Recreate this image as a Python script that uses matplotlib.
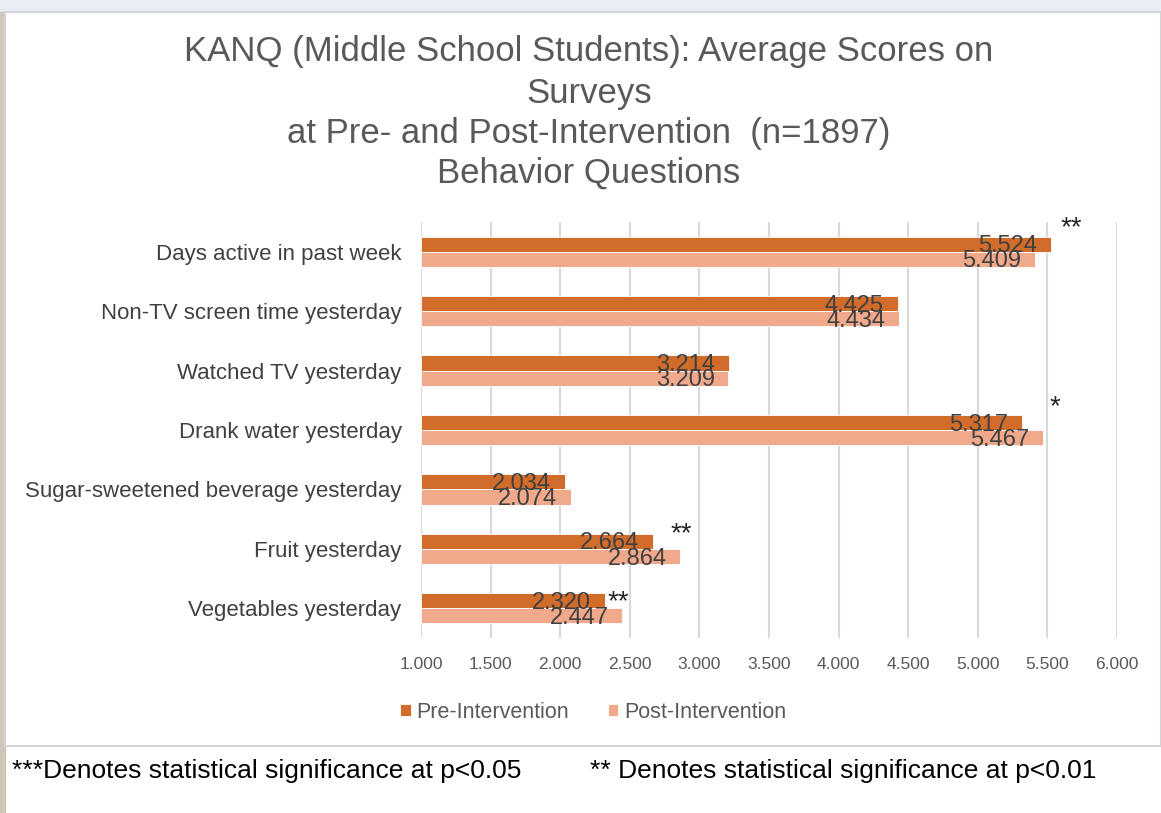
import numpy as np
import matplotlib
matplotlib.use("Agg")
import matplotlib.pyplot as plt
from matplotlib.patches import Rectangle

plt.rcParams['font.family'] = ['Liberation Sans', 'DejaVu Sans']

# Datos
categorias = ["Days active in past week",
              "Non-TV screen time yesterday",
              "Watched TV yesterday",
              "Drank water yesterday",
              "Sugar-sweetened beverage yesterday",
              "Fruit yesterday",
              "Vegetables yesterday"]
pre = [5.524, 4.425, 3.214, 5.317, 2.034, 2.664, 2.320]
post = [5.409, 4.434, 3.209, 5.467, 2.074, 2.864, 2.447]
series = ["Pre-Intervention", "Post-Intervention"]
ticks = [1.0, 1.5, 2.0, 2.5, 3.0, 3.5, 4.0, 4.5, 5.0, 5.5, 6.0]

# significancia: indice de categoria -> marca
estrellas = {0: "**", 3: "*", 5: "**", 6: "**"}

titulo = ["KANQ (Middle School Students): Average Scores on",
          "Surveys",
          "at Pre- and Post-Intervention  (n=1897)",
          "Behavior Questions"]
nota1 = "***Denotes statistical significance at p<0.05"
nota2 = "** Denotes statistical significance at p<0.01"

c_pre = '#D26C2A'
c_post = '#F1A98B'

W, H = 1161, 813
fig = plt.figure(figsize=(W / 100, H / 100), dpi=100)
fig.patch.set_facecolor('white')

# fondo tipo captura de pantalla
fig.add_artist(Rectangle((0, 1 - 12 / H), 1, 12 / H, transform=fig.transFigure,
                         color='#E9EEF6', zorder=0))
fig.add_artist(Rectangle((0, 0), 5 / W, 1 - 12 / H, transform=fig.transFigure,
                         color='#CFC7BA', zorder=0))
fig.add_artist(Rectangle((5 / W, 1 - 746 / H), 1 - 5 / W, (746 - 12) / H,
                         transform=fig.transFigure, facecolor='white',
                         edgecolor='#D4D4D4', lw=1.5, zorder=0))

ax = fig.add_axes([421 / W, 1 - 638 / H, (1117 - 421) / W, (638 - 222) / H])
ax.set_facecolor('none')

y = np.arange(len(categorias))
h = 0.255
ax.barh(y - h / 2, [v - 1 for v in pre], left=1, height=h, color=c_pre,
        edgecolor='white', linewidth=0.6, label=series[0], zorder=3)
ax.barh(y + h / 2, [v - 1 for v in post], left=1, height=h, color=c_post,
        edgecolor='white', linewidth=0.6, label=series[1], zorder=3)

# etiquetas de valores
for i in range(len(categorias)):
    ax.annotate("{:.3f}".format(pre[i]), (pre[i], y[i] - h / 2),
                xytext=(-10, -1.5), textcoords='offset points', ha='right',
                va='center', fontsize=17, color='#404040', zorder=4)
    ax.annotate("{:.3f}".format(post[i]), (post[i], y[i] + h / 2),
                xytext=(-10, -1.5), textcoords='offset points', ha='right',
                va='center', fontsize=17, color='#404040', zorder=4)

# estrellas (colocadas a mano como en el original)
pos_estrellas = {0: (5.67, -0.27), 3: (5.555, -0.27), 5: (2.868, -0.135), 6: (2.42, 0.015)}
for i, s in estrellas.items():
    xs, dy = pos_estrellas[i]
    ax.text(xs, y[i] + dy, s, ha='center', va='baseline', fontsize=20,
            color='#262626', zorder=4)

ax.set_xlim(1, 6)
ax.set_ylim(len(categorias) - 0.5, -0.5)
ax.set_xticks(ticks)
ax.set_xticklabels(["{:.3f}".format(t) for t in ticks])
ax.set_yticks(y)
ax.set_yticklabels(categorias)
ax.tick_params(axis='x', length=0, pad=14, labelsize=12.5, labelcolor='#595959')
ax.tick_params(axis='y', length=0, pad=14, labelsize=16, labelcolor='#404040')
for sp in ax.spines.values():
    sp.set_visible(False)
ax.grid(axis='x', color='#D9D9D9', linewidth=1.5, zorder=0)
ax.set_axisbelow(True)

# titulo
ys_t = [52, 93, 133, 173]
for linea, yt in zip(titulo, ys_t):
    fig.text(589 / W, 1 - yt / H, linea, ha='center', va='center',
             fontsize=25, color='#595959')

fig.legend(loc='center', bbox_to_anchor=(593 / W, 1 - 712 / H), ncol=2,
           frameon=False, fontsize=15.5, handlelength=0.5, handleheight=0.5,
           handletextpad=0.25, columnspacing=1.8, labelcolor='#595959')

fig.text(12 / W, 1 - 771 / H, nota1, ha='left', va='center', fontsize=19,
         color='black')
fig.text(590 / W, 1 - 771 / H, nota2, ha='left', va='center', fontsize=19,
         color='black')

plt.savefig('out.png', dpi=100)
